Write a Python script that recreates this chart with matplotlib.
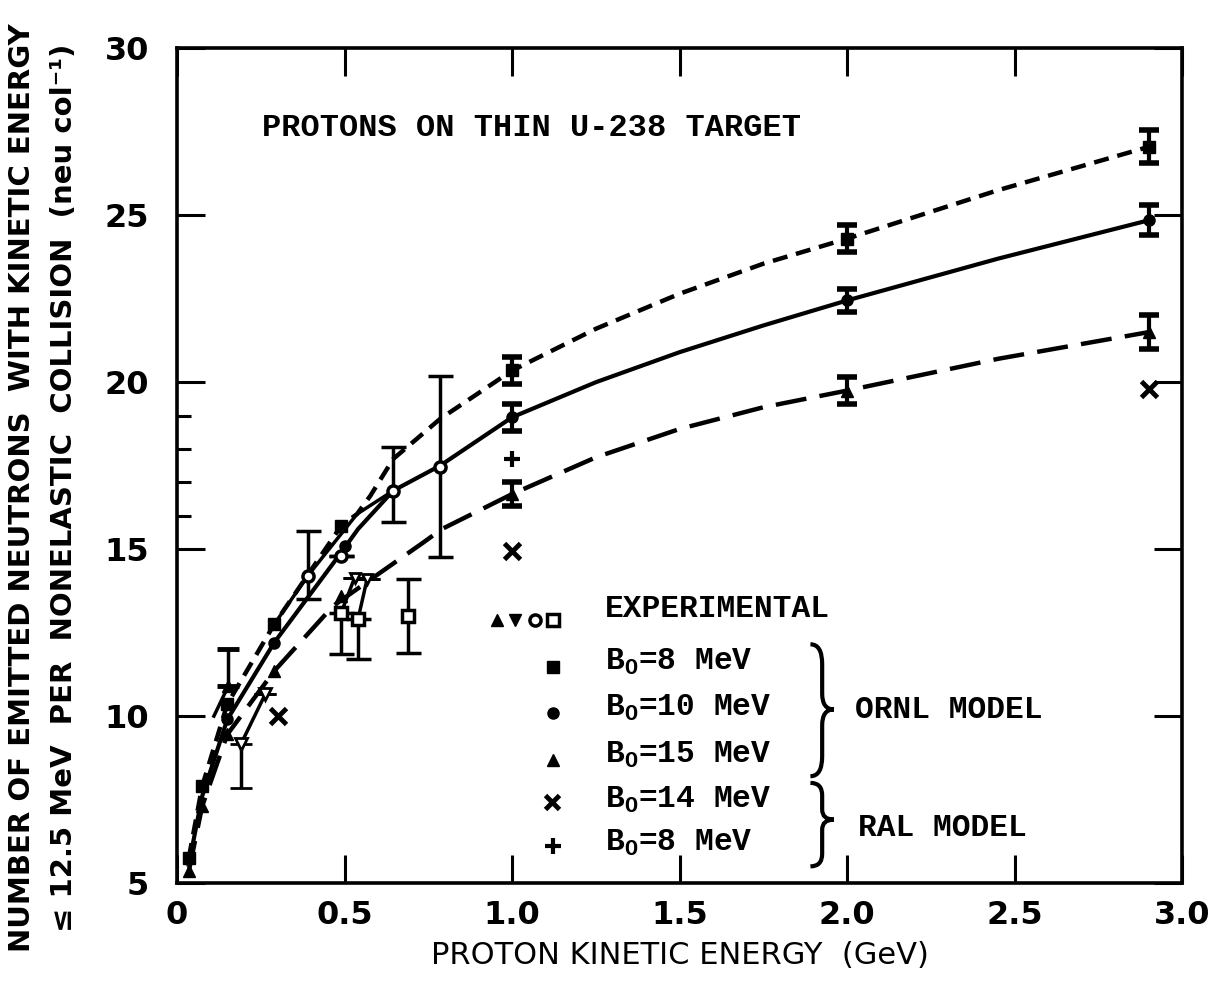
import numpy as np
import matplotlib
matplotlib.use("Agg")
import matplotlib.pyplot as plt
from matplotlib.path import Path
from matplotlib.patches import PathPatch

plt.rcParams['mathtext.fontset'] = 'custom'
plt.rcParams['mathtext.rm'] = 'Liberation Mono:bold'

# ORNL model curves (x in GeV)
b8_curve_x = [0.035, 0.075, 0.15, 0.29, 0.49, 0.537, 0.577, 0.645, 0.785, 1.0, 1.25, 1.5, 1.75, 2.0, 2.45, 2.9]
b8_curve_y = [5.75, 7.9, 10.36, 12.75, 15.7, 16.05, 16.6, 17.7, 18.9, 20.35, 21.6, 22.65, 23.55, 24.3, 25.75, 27.05]

b10_curve_x = [0.035, 0.075, 0.15, 0.29, 0.49, 0.54, 0.645, 0.785, 1.0, 1.25, 1.5, 1.75, 2.0, 2.45, 2.9]
b10_curve_y = [5.55, 7.6, 9.9, 12.2, 14.9, 15.6, 16.75, 17.5, 18.95, 20.0, 20.9, 21.7, 22.45, 23.7, 24.85]

b15_curve_x = [0.035, 0.075, 0.15, 0.29, 0.466, 0.6, 0.735, 0.79, 1.0, 1.25, 1.5, 1.75, 2.0, 2.45, 2.9]
b15_curve_y = [5.35, 7.3, 9.45, 11.35, 13.3, 14.25, 15.2, 15.6, 16.65, 17.75, 18.6, 19.25, 19.75, 20.7, 21.5]

# ORNL computed points
b8_x = [0.035, 0.075, 0.15, 0.29, 0.49]
b8_y = [5.75, 7.9, 10.36, 12.75, 15.7]
b10_x = [0.15, 0.29, 0.5]
b10_y = [9.9, 12.2, 15.1]
b15_x = [0.035, 0.075, 0.15, 0.29, 0.49]
b15_y = [5.35, 7.3, 9.45, 11.35, 13.6]

# ORNL points with error bars
err_x = [1.0, 2.0, 2.9]
b8_err_y = [20.35, 24.3, 27.05]
b8_err = [0.4, 0.4, 0.5]
b10_err_y = [18.95, 22.45, 24.85]
b10_err = [0.4, 0.35, 0.45]
b15_err_y = [16.65, 19.75, 21.5]
b15_err = [0.37, 0.4, 0.5]

# RAL model
ral14_x = [0.30, 1.0, 2.9]
ral14_y = [10.0, 14.95, 19.8]
ral8_x = [1.0]
ral8_y = [17.7]

# experimental data
exp_tri_x = [0.11, 0.153]
exp_tri_y = [10.0, 10.9]
exp_tri_lo = [0.0, 0.0]
exp_tri_hi = [0.0, 1.1]

exp_dtri_x = [0.19, 0.263]
exp_dtri_y = [9.15, 10.65]
exp_dtri_lo = [1.3, 0.0]
exp_dtri_hi = [0.0, 0.0]
exp_dtri2_x = [0.53, 0.567]
exp_dtri2_y = [14.15, 14.1]

exp_circ_x = [0.39, 0.49, 0.645, 0.785]
exp_circ_y = [14.2, 14.8, 16.75, 17.45]
exp_circ_lo = [0.7, 0.0, 0.95, 2.7]
exp_circ_hi = [1.35, 0.0, 1.3, 2.75]
exp_circ_line_x = [0.29, 0.39, 0.537, 0.645]
exp_circ_line_y = [12.75, 14.2, 16.05, 16.75]

exp_sq_x = [0.49, 0.54, 0.69]
exp_sq_y = [13.1, 12.9, 13.0]
exp_sq_lo = [1.25, 1.2, 1.1]
exp_sq_hi = [0.0, 0.0, 1.1]

xticks = [0, 0.5, 1.0, 1.5, 2.0, 2.5, 3.0]
xticklabels = ['0', '0.5', '1.0', '1.5', '2.0', '2.5', '3.0']
yticks = [5, 10, 15, 20, 25, 30]

mono = 'Liberation Mono'
sans = 'DejaVu Sans'


def brace(ax, x, y0, y1, w, ytip=None):
    # curly brace opening to the left, tip pointing right
    if ytip is None:
        ytip = (y0 + y1) / 2
    h = y1 - y0
    xm = x + w * 0.5
    verts = [(x, y1), (xm, y1), (xm, y1 - 0.15 * h),
             (xm, ytip + 0.12 * h),
             (xm, ytip), (x + w, ytip),
             (xm, ytip), (xm, ytip - 0.12 * h),
             (xm, y0 + 0.15 * h),
             (xm, y0), (x, y0)]
    codes = [Path.MOVETO, Path.CURVE3, Path.CURVE3, Path.LINETO,
             Path.CURVE3, Path.CURVE3, Path.CURVE3, Path.CURVE3,
             Path.LINETO, Path.CURVE3, Path.CURVE3]
    ax.add_patch(PathPatch(Path(verts, codes), fill=False, lw=3, color='black'))


fig = plt.figure(figsize=(12.15, 9.85), dpi=100)
ax = fig.add_axes([0.1457, 0.1035, 0.8275, 0.8475])

# model curves
ax.plot(b8_curve_x, b8_curve_y, color='black', lw=3.2, dashes=(3.4, 2.0))
ax.plot(b10_curve_x, b10_curve_y, color='black', lw=3)
ax.plot(b15_curve_x, b15_curve_y, color='black', lw=3.2, dashes=(7.0, 3.0))

ax.plot(b8_x, b8_y, 's', color='black', ms=8)
ax.plot(b10_x, b10_y, 'o', color='black', ms=8)
ax.plot(b15_x, b15_y, '^', color='black', ms=8)

ax.errorbar(err_x, b8_err_y, yerr=b8_err, fmt='s', color='black', ms=8,
            elinewidth=3, capsize=7, capthick=4)
ax.errorbar(err_x, b10_err_y, yerr=b10_err, fmt='o', color='black', ms=8,
            elinewidth=3, capsize=7, capthick=4)
ax.errorbar(err_x, b15_err_y, yerr=b15_err, fmt='^', color='black', ms=8,
            elinewidth=3, capsize=7, capthick=4)

ax.plot(ral14_x, ral14_y, 'x', color='black', ms=11, mew=3.5)
ax.plot(ral8_x, ral8_y, '+', color='black', ms=12, mew=3)

# experimental
ax.plot(exp_tri_x, exp_tri_y, color='black', lw=2.5)
ax.errorbar(exp_tri_x[1:], exp_tri_y[1:], yerr=[exp_tri_lo[1:], exp_tri_hi[1:]],
            fmt='^', color='black', ms=8, elinewidth=2.5, capsize=8, capthick=3.5)

ax.plot(exp_dtri_x, exp_dtri_y, color='black', lw=2.5)
ax.errorbar(exp_dtri_x, exp_dtri_y, yerr=[exp_dtri_lo, exp_dtri_hi],
            fmt='v', color='black', mfc='white', mew=2, ms=8,
            elinewidth=2.5, capsize=8, capthick=3.5)

ax.plot(exp_circ_line_x, exp_circ_line_y, color='black', lw=2.5)
ax.errorbar(exp_circ_x, exp_circ_y, yerr=[exp_circ_lo, exp_circ_hi],
            fmt='o', color='black', mfc='white', mew=2.5, ms=8,
            elinewidth=2.5, capsize=9, capthick=3.5, zorder=4)

for sx, sy, tx, ty in zip(exp_sq_x[:2], exp_sq_y[:2], exp_dtri2_x, exp_dtri2_y):
    ax.plot([sx, tx], [sy, ty], color='black', lw=2.5)
ax.errorbar(exp_dtri2_x, exp_dtri2_y, yerr=[[0, 0], [0, 0]], fmt='v',
            color='black', mfc='white', mew=2, ms=7, capsize=9, capthick=3.5)
ax.errorbar(exp_sq_x, exp_sq_y, yerr=[exp_sq_lo, exp_sq_hi],
            fmt='s', color='black', mfc='white', mew=2.5, ms=8,
            elinewidth=2.5, capsize=9, capthick=3.5, zorder=4)

# axes
ax.set_xlim(0, 3.0)
ax.set_ylim(5, 30)
ax.set_xticks(xticks)
ax.set_xticklabels(xticklabels)
ax.set_yticks(yticks)
ax.set_yticks([16, 17, 18, 19], minor=True)
ax.tick_params(which='major', direction='in', length=20, width=2.2,
               top=True, right=True, labelsize=23, pad=12)
ax.tick_params(which='minor', direction='in', length=10, width=2.2, left=True, right=False)
ax.tick_params(axis='y', pad=20)
for lab in ax.get_xticklabels() + ax.get_yticklabels():
    lab.set_fontweight('bold')
for s in ax.spines.values():
    s.set_linewidth(2.6)

ax.text(0.253, 27.6, 'PROTONS ON THIN U-238 TARGET', family=mono,
        fontweight='bold', fontsize=23, va='center')

# legend block
leg_x = 1.278
ax.text(leg_x, 13.2, 'EXPERIMENTAL', family=mono, fontweight='bold', fontsize=22.5, va='center')
ax.plot([0.954], [12.87], '^', color='black', ms=8)
ax.plot([1.008], [12.87], 'v', color='black', ms=8)
ax.plot([1.068], [12.87], 'o', color='black', mfc='white', mew=2.5, ms=8)
ax.plot([1.121], [12.87], 's', color='black', mfc='white', mew=2.5, ms=8)

legend_labels = [r'B$_{\mathrm{O}}$=8 MeV', r'B$_{\mathrm{O}}$=10 MeV',
                 r'B$_{\mathrm{O}}$=15 MeV', r'B$_{\mathrm{O}}$=14 MeV',
                 r'B$_{\mathrm{O}}$=8 MeV']
legend_y = [11.62, 10.24, 8.83, 7.49, 6.2]
legend_marks = ['s', 'o', '^', 'x', '+']
for lab, ly, mk in zip(legend_labels, legend_y, legend_marks):
    ax.text(leg_x, ly, lab, family=mono, fontweight='bold', fontsize=22.5, va='center')
    if mk == 'x':
        ax.plot([1.118], [ly - 0.05], 'x', color='black', ms=10, mew=3.5)
    elif mk == '+':
        ax.plot([1.121], [ly - 0.1], '+', color='black', ms=11, mew=3)
    else:
        ax.plot([1.121], [ly - 0.15], mk, color='black', ms=8)

brace(ax, 1.89, 8.2, 12.15, 0.07, ytip=10.2)
brace(ax, 1.89, 5.5, 8.0, 0.07, ytip=6.9)
ax.text(2.022, 10.18, 'ORNL MODEL', family=mono, fontweight='bold', fontsize=22.5, va='center')
ax.text(2.031, 6.65, 'RAL MODEL', family=mono, fontweight='bold', fontsize=22.5, va='center')

# axis titles
fig.text(0.56, 0.03, 'PROTON KINETIC ENERGY  (GeV)', family=sans, fontsize=22,
         ha='center', va='center')
fig.text(0.018, 0.505, 'NUMBER OF EMITTED NEUTRONS  WITH KINETIC ENERGY',
         family=sans, fontsize=21, fontweight='bold', rotation=90,
         ha='center', va='center')
fig.text(0.053, 0.505, '\u2264 12.5 MeV  PER  NONELASTIC  COLLISION  (neu col\u207b\u00b9)',
         family=sans, fontsize=21, fontweight='bold', rotation=90,
         ha='center', va='center')

fig.savefig('out.png', dpi=100)
